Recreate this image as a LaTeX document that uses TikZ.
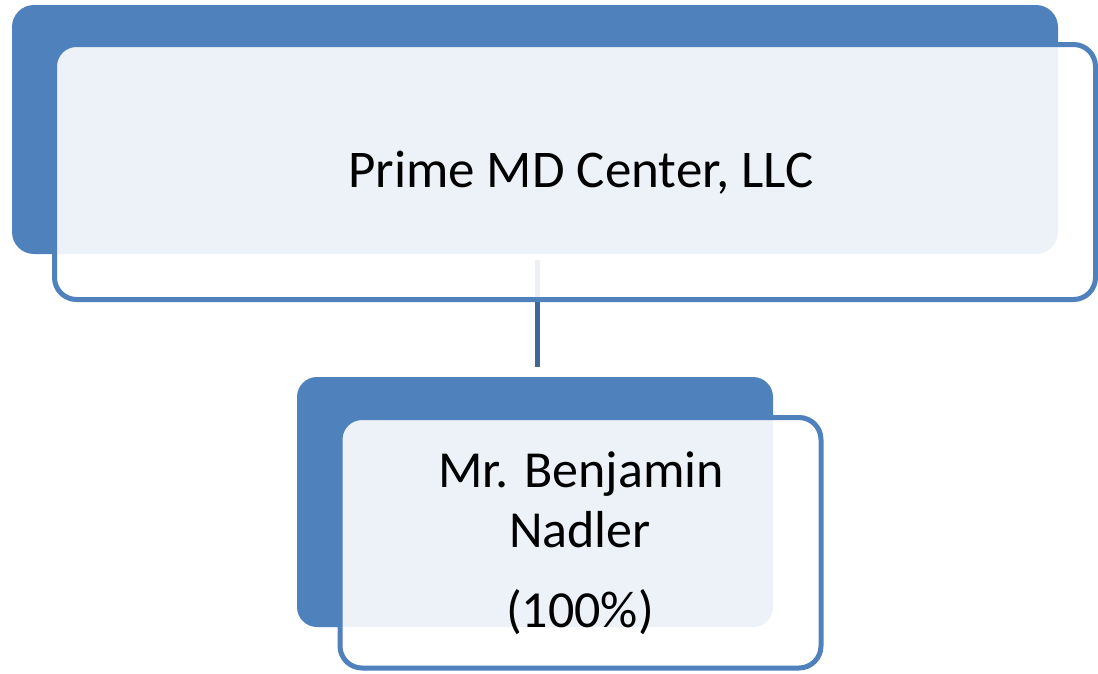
\documentclass[tikz,border=0pt]{standalone}
\usepackage{fontspec}
\setmainfont{Carlito}
\definecolor{accent}{RGB}{79,129,189}
\definecolor{connblue}{RGB}{62,104,153}
\tikzset{
  backbox/.style={fill=accent, draw=none, rounded corners=22pt, inner sep=0pt, outer sep=0pt},
  frontbox/.style={fill=white, fill opacity=0.9, draw=accent, line width=5pt, rounded corners=22pt, inner sep=0pt, outer sep=0pt},
  conn/.style={draw=connblue, line width=5pt},
  lbl/.style={anchor=base, inner sep=0pt, text=black}
}
\begin{document}
\begin{tikzpicture}[x=1pt,y=-1pt]
\useasboundingbox (0,0) rectangle (1098,673);
% top entity
\node[backbox, minimum width=1046pt, minimum height=249pt] (topback) at (535,129.5) {};
\draw[conn] ([xshift=2pt,yshift=-6pt]topback.south) coordinate (c1) -- ([xshift=2pt,yshift=5pt]topback.south |- 0,372) coordinate (c2);
\node[frontbox, minimum width=1041pt, minimum height=255pt] (topfront) at (575,172) {};
\node[lbl, font=\fontsize{53}{63}\selectfont] (toptext) at (581,187) {Prime MD Center, LLC};
% bottom entity
\node[backbox, rounded corners=20pt, minimum width=476pt, minimum height=250pt] (botback) at (535,502) {};
\node[frontbox, minimum width=481pt, minimum height=250.5pt] (botfront) at (580.5,542.75) {};
\node[lbl, font=\fontsize{52}{62}\selectfont] (ben1) at (581,487) {Mr. Benjamin};
\node[lbl, font=\fontsize{52}{62}\selectfont] (ben2) at (580,547) {Nadler};
\node[lbl, font=\fontsize{52}{62}\selectfont] (ben3) at (580,627) {(100\%)};
\end{tikzpicture}
\end{document}
